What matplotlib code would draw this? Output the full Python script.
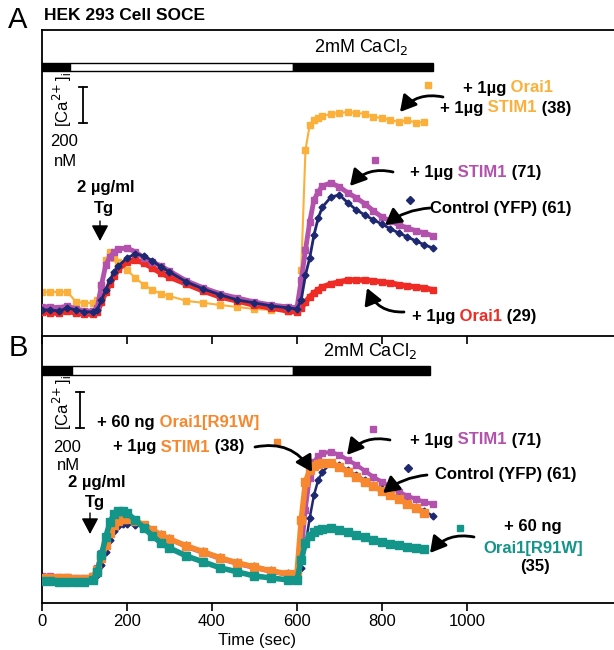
import numpy as np
import matplotlib.pyplot as plt
from matplotlib.patches import Rectangle
from matplotlib.transforms import blended_transform_factory

plt.rcParams['font.family'] = ['Liberation Sans', 'DejaVu Sans']

nan = np.nan

# ---- panel A: HEK 293 SOCE, [Ca2+]i in nM ----
time_a = [0, 20, 40, 60, 80, 100, 120, 130, 140, 150, 160, 170, 180, 200, 220, 240, 260, 280, 300,
          340, 380, 420, 460, 500, 540, 580, 600, 610, 620, 630, 640, 650, 660, 680, 700, 720, 740,
          760, 780, 800, 820, 840, 860, 880, 900, 920]
orai_stim_a = [217, 217, 217, 217, 161, 156, 156, 172, 256, 394, 439, 406, 383, 339, 294, 256, 228, 206, 194,
               167, 156, 144, 133, 122, 117, 111, 111, 339, 1006, 1144, 1172, 1183, 1194, 1206, 1211, 1217, 1211,
               1206, 1189, 1183, 1172, 1161, 1172, 1156, 1161, nan]
control_a = [117, 117, 111, 128, 117, 106, 106, 117, 172, 228, 283, 328, 361, 406, 428, 417, 389, 356, 328,
             272, 233, 200, 172, 156, 139, 128, 122, 172, 311, 406, 533, 628, 689, 744, 756, 711, 672,
             644, 617, 594, 567, 544, 522, 500, 478, 461]
stim_a = [133, 133, 128, 139, 122, 111, 111, 128, 256, 367, 411, 439, 456, 461, 439, 406, 383, 361, 333,
          278, 239, 206, 183, 161, 144, 133, 128, 283, 450, 606, 728, 772, 806, 822, 800, 767, 739,
          706, 667, 633, 611, 589, 572, 556, 544, 528]
orai_a = [106, 100, 100, 111, 100, 94, 94, 106, 161, 217, 261, 306, 344, 383, 394, 378, 350, 322, 300,
          261, 222, 189, 167, 144, 128, 111, 106, 128, 161, 189, 211, 228, 244, 261, 272, 283, 283,
          283, 278, 272, 267, 256, 250, 244, 239, 228]

# ---- panel B: Orai1[R91W] ----
time_b = [0, 20, 40, 60, 80, 100, 120, 130, 140, 150, 160, 170, 180, 190, 200, 220, 240, 260, 280, 300,
          340, 380, 420, 460, 500, 540, 580, 600, 610, 620, 630, 640, 650, 660, 680, 700, 720, 740,
          760, 780, 800, 820, 840, 860, 880, 900, 920]
r91w_b = [106, 106, 100, 100, 100, 100, 111, 156, 250, 350, 433, 478, 494, 494, 483, 444, 400, 356, 317, 289,
          244, 211, 178, 156, 133, 122, 111, 111, 222, 317, 356, 378, 389, 394, 400, 389, 378, 361,
          350, 333, 322, 311, 306, 294, 289, 283, nan]
r91w_stim_b = [122, 122, 122, 122, 117, 117, 128, 167, 233, 306, 372, 417, 439, 450, 450, 439, 417, 389, 361, 339,
               300, 267, 233, 206, 183, 161, 144, 144, 444, 656, 722, 744, 756, 761, 761, 739, 711, 683,
               656, 633, 606, 583, 561, 533, 511, 483, nan]
control_b = [117, 117, 117, 117, 117, 117, 117, 139, 194, 267, 333, 383, 411, 422, 422, 417, 406, 389, 367, 344,
             306, 272, 239, 211, 189, 167, 150, 133, 178, 306, 456, 583, 667, 711, 761, 750, 722, 694,
             667, 639, 617, 589, 567, 539, 517, 494, 467]
stim_b = [133, 133, 128, 128, 122, 122, 133, 178, 261, 350, 422, 461, 478, 478, 467, 439, 417, 389, 361, 339,
          294, 261, 228, 200, 178, 156, 139, 133, 250, 500, 678, 767, 800, 817, 822, 806, 778, 750,
          717, 683, 656, 628, 600, 578, 561, 544, 533]

# bath solution boundaries (sec): Ca -> 0 Ca -> 2mM Ca
bath_a = [0, 65, 590, 920]
bath_b = [0, 70, 590, 913]
xticks = [0, 200, 400, 600, 800, 1000]

c_orange = '#FBB03B'
c_orange_b = '#F7882F'
c_mag = '#B352AC'
c_navy = '#1E2870'
c_red = '#EE2B24'
c_teal = '#13958A'

fig = plt.figure(figsize=(6.14, 6.5), dpi=100)
W, H = 614.0, 650.0


def F(px, py):
    return (px / W, 1 - py / H)


axA = fig.add_axes([42 / W, 1 - 336 / H, 1 - 42 / W, 306 / H])
axB = fig.add_axes([42 / W, 1 - 603 / H, 1 - 42 / W, 267 / H])

for ax in (axA, axB):
    ax.set_xlim(0, 1346)
    ax.spines['right'].set_visible(False)
    for s in ax.spines.values():
        s.set_linewidth(1.3)
    ax.set_yticks([])

axA.set_ylim(-28, 1672)
axB.set_ylim(-17, 1467)
axA.spines['bottom'].set_visible(False)
axA.set_xticks([])

axB.set_xticks(xticks)
axB.tick_params(axis='x', which='both', top=True, bottom=True, direction='out', length=6, width=1.2,
                labelsize=12, pad=2)
for tl in axB.xaxis.get_major_ticks():
    tl.tick2line.set_marker(3)  # top ticks point into the panel
fig.text(*F(257, 641), 'Time (sec)', ha='center', va='center', fontsize=12)


def trace(ax, t, y, color, marker='s', ms=4, lw=3, z=2):
    ax.plot(t, y, color=color, lw=lw, marker=marker, ms=ms, mec=color, mfc=color, zorder=z,
            solid_joinstyle='round')


trace(axA, time_a, orai_stim_a, c_orange, lw=1.5, ms=5, z=2)
trace(axA, time_a, orai_a, c_red, lw=4, ms=4.5, z=3)
trace(axA, time_a, stim_a, c_mag, lw=3.5, ms=5, z=4)
trace(axA, time_a, control_a, c_navy, marker='D', lw=2, ms=3.5, z=5)

trace(axB, time_b, stim_b, c_mag, lw=3, ms=5, z=2)
trace(axB, time_b, control_b, c_navy, marker='D', lw=1.8, ms=3.5, z=3)
trace(axB, time_b, r91w_stim_b, c_orange_b, lw=4, ms=5.5, z=4)
trace(axB, time_b, r91w_b, c_teal, lw=4, ms=5.5, z=5)


def bath_bar(ax, edges, y0, y1):
    tr = blended_transform_factory(ax.transData, ax.transAxes)
    fills = ['black', 'white', 'black']
    for i in range(3):
        ax.add_patch(Rectangle((edges[i], y0), edges[i + 1] - edges[i], y1 - y0, transform=tr,
                               facecolor=fills[i], edgecolor='black', lw=1.0, clip_on=False))


bath_bar(axA, bath_a, 0.866, 0.892)
bath_bar(axB, bath_b, 0.854, 0.888)
axA.text(751, 0.945, '2mM CaCl$_2$', transform=blended_transform_factory(axA.transData, axA.transAxes),
         ha='center', va='center', fontsize=13)
axB.text(772, 0.945, '2mM CaCl$_2$', transform=blended_transform_factory(axB.transData, axB.transAxes),
         ha='center', va='center', fontsize=13)

# titles / panel letters
fig.text(*F(18, 20), 'A', fontsize=21, ha='center', va='center')
fig.text(*F(18, 348), 'B', fontsize=21, ha='center', va='center')
fig.text(*F(44, 15), 'HEK 293 Cell SOCE', fontsize=12.5, fontweight='bold', va='center')

# 200 nM scale bars
for ax, x0, y0 in ((axA, 96, 1156), (axB, 89, 956)):
    ax.plot([x0, x0], [y0, y0 + 200], color='black', lw=1.3)
    ax.plot([x0 - 10, x0 + 10], [y0, y0], color='black', lw=1.3)
    ax.plot([x0 - 10, x0 + 10], [y0 + 200, y0 + 200], color='black', lw=1.3)

for (cx, cy), (nx, ny) in (((62, 100), (64, 142)), ((62, 403), (67, 447))):
    fig.text(*F(cx, cy), r'[Ca$^{2\!+}$]$_\mathregular{i}$', rotation=90, fontsize=12,
             ha='center', va='center')
    fig.text(*F(nx, ny), '200', fontsize=12, ha='center', va='center')
    fig.text(*F(nx + 1, ny + 19), 'nM', fontsize=12, ha='center', va='center')

# Tg additions
for (x, y), (ax_, ay0, ay1) in (((106, 188), (100, 221, 241)), ((97, 483), (90, 513, 534))):
    fig.text(*F(x, y), '2 µg/ml', fontsize=12, fontweight='bold', ha='center', va='center')
    fig.text(*F(x - 2, y + 20), 'Tg', fontsize=12, fontweight='bold', ha='center', va='center')
    fig.add_artist(plt.Annotation('', xy=F(ax_, ay1), xytext=F(ax_, ay0), xycoords='figure fraction',
                                  arrowprops=dict(arrowstyle='-|>,head_length=0.75,head_width=0.4',
                                                  color='black', lw=1, mutation_scale=13,
                                                  shrinkA=0, shrinkB=0)))


def label(px, py, parts, ha='left'):
    t = fig.text(*F(px, py), parts[0][0], color=parts[0][1], fontsize=12, fontweight='bold',
                 ha=ha, va='center')
    for s, c in parts[1:]:
        t = fig.add_artist(plt.Annotation(s, xy=(1, 0), xycoords=t, va='bottom', ha='left', color=c,
                                          fontsize=12, fontweight='bold'))
    return t


def arrow(tail, head, rad):
    fig.add_artist(plt.Annotation('', xy=F(*head), xytext=F(*tail), xycoords='figure fraction',
                                  arrowprops=dict(arrowstyle='-|>,head_length=0.8,head_width=0.45',
                                                  color='black', lw=2, mutation_scale=12,
                                                  connectionstyle='arc3,rad=%s' % rad,
                                                  shrinkA=0, shrinkB=0)))


def key(px, py, color, marker='s', ms=5):
    fig.add_artist(plt.Line2D([px / W], [1 - py / H], marker=marker, color=color, ms=ms, ls='none'))


k = 'black'
# panel A annotations
label(463, 88, [('+ 1µg', k), (' Orai1', c_orange)])
label(440, 108, [('+ 1µg', k), (' STIM1', c_orange), (' (38)', k)])
label(410, 172, [('+ 1µg', k), (' STIM1', c_mag), (' (71)', k)])
label(430, 208, [('Control (YFP) (61)', k)])
label(412, 317, [('+ 1µg', k), (' Orai1', c_red), (' (29)', k)])
arrow((443, 97), (400, 112), 0.3)
arrow((393, 172), (350, 186), 0.3)
arrow((430, 208), (385, 225), 0.15)
arrow((404, 312), (367, 288), -0.35)
key(428, 85, c_orange)
key(375, 160, c_mag)
key(410, 200, c_navy, 'D', 4)

# panel B annotations
label(97, 423, [('+ 60 ng', k), (' Orai1[R91W]', c_orange_b)])
label(113, 447, [('+ 1µg', k), (' STIM1', c_orange_b), (' (38)', k)])
label(410, 440, [('+ 1µg', k), (' STIM1', c_mag), (' (71)', k)])
label(435, 475, [('Control (YFP) (61)', k)])
label(533, 527, [('+ 60 ng', k)], ha='center')
label(533, 548, [('Orai1[R91W]', c_teal)], ha='center')
label(535, 567, [('(35)', k)], ha='center')
arrow((255, 447), (312, 472), -0.35)
arrow((390, 440), (347, 455), 0.3)
arrow((427, 475), (383, 493), 0.15)
arrow((474, 537), (430, 553), 0.3)
key(277, 442, c_orange_b)
key(373, 429, c_mag)
key(408, 468, c_navy, 'D', 4)
key(460, 528, c_teal)

fig.savefig('out.png', dpi=100)
